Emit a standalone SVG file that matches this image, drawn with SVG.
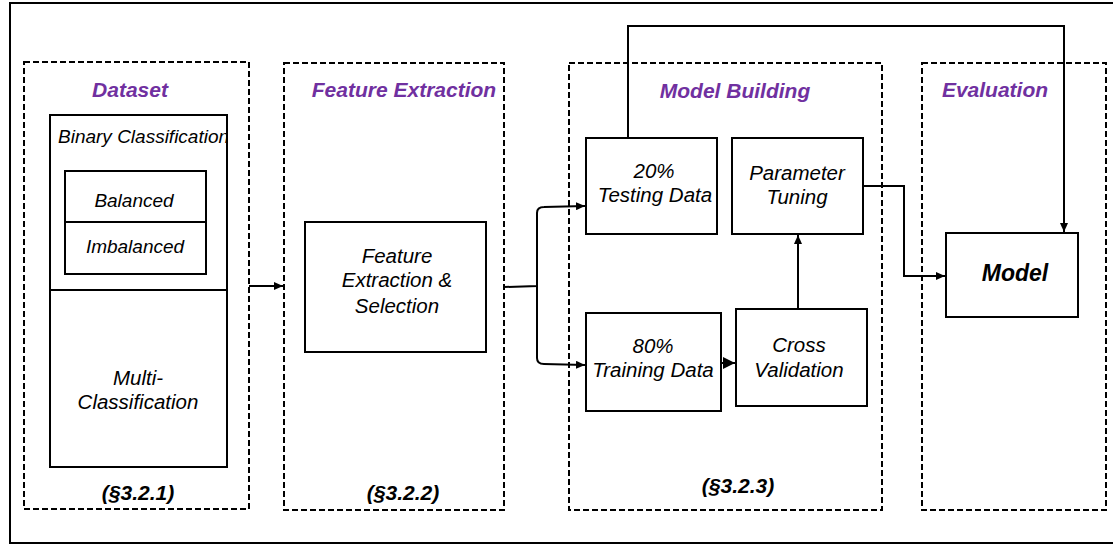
<svg xmlns="http://www.w3.org/2000/svg" width="1113" height="545" viewBox="0 0 1113 545">
  <defs>
    <style>
      .frame { fill: none; stroke: #000; stroke-width: 2; }
      .stage { fill: none; stroke: #000; stroke-width: 2; stroke-dasharray: 6 3; }
      .box { fill: #fff; stroke: #000; stroke-width: 2; }
      .rule { fill: none; stroke: #000; stroke-width: 2; }
      .wire { fill: none; stroke: #000; stroke-width: 2; }
      .title { font-family: "Liberation Sans", Arial, sans-serif; font-size: 21px; font-weight: bold; font-style: italic; fill: #7030A0; text-anchor: middle; }
      .ref { font-family: "Liberation Sans", Arial, sans-serif; font-size: 21px; font-weight: bold; font-style: italic; fill: #000; text-anchor: middle; }
      .lbl { font-family: "Liberation Sans", Arial, sans-serif; font-size: 20.5px; font-style: italic; fill: #000; text-anchor: middle; }
      .lbl-sm { font-family: "Liberation Sans", Arial, sans-serif; font-size: 19px; font-style: italic; fill: #000; text-anchor: middle; }
    </style>
    <marker id="arrow" markerUnits="userSpaceOnUse" markerWidth="9" markerHeight="8" refX="9" refY="4" orient="auto">
      <path d="M0,0 L9,4 L0,8 z" fill="#000"/>
    </marker>
    <marker id="arrow-bold" markerUnits="userSpaceOnUse" markerWidth="12" markerHeight="12" refX="12" refY="6" orient="auto">
      <path d="M0,0 L12,6 L0,12 z" fill="#000"/>
    </marker>
    <clipPath id="binary-clip">
      <rect x="50" y="115" width="177" height="175"/>
    </clipPath>
  </defs>

  <!-- outer frame -->
  <rect class="frame" x="10" y="3" width="1115" height="540"/>

  <!-- stage: dataset -->
  <g id="stage-dataset">
    <rect class="stage" x="24" y="62" width="225" height="447"/>
    <text class="title" x="130" y="97">Dataset</text>
    <text class="ref" x="138" y="500">(§3.2.1)</text>
  </g>
  <g id="node-classification">
    <rect class="box" x="50" y="115" width="177" height="352"/>
    <line class="rule" x1="50" y1="290" x2="227" y2="290"/>
    <text class="lbl-sm" x="58" y="143" style="text-anchor:start" clip-path="url(#binary-clip)">Binary Classification</text>
    <text class="lbl" x="138" y="385">Multi-</text>
    <text class="lbl" x="138" y="409">Classification</text>
  </g>
  <g id="node-balance">
    <rect class="box" x="65" y="171" width="141" height="103"/>
    <line class="rule" x1="65" y1="222" x2="206" y2="222"/>
    <text class="lbl-sm" x="134" y="207">Balanced</text>
    <text class="lbl-sm" x="135" y="253">Imbalanced</text>
  </g>

  <!-- stage: feature extraction -->
  <g id="stage-features">
    <rect class="stage" x="284" y="63" width="220" height="447"/>
    <text class="title" x="404" y="97">Feature Extraction</text>
    <text class="ref" x="403" y="500">(§3.2.2)</text>
  </g>
  <g id="node-feature-selection">
    <rect class="box" x="305" y="222" width="181" height="130"/>
    <text class="lbl" x="397" y="263">Feature</text>
    <text class="lbl" x="397" y="287">Extraction &amp;</text>
    <text class="lbl" x="397" y="313">Selection</text>
  </g>

  <!-- stage: model building -->
  <g id="stage-model-building">
    <rect class="stage" x="569" y="63" width="313" height="447"/>
    <text class="title" x="735" y="98">Model Building</text>
    <text class="ref" x="738" y="493">(§3.2.3)</text>
  </g>
  <g id="node-testing">
    <rect class="box" x="586" y="138" width="131" height="96"/>
    <text class="lbl" x="654" y="178">20%</text>
    <text class="lbl" x="655" y="202">Testing Data</text>
  </g>
  <g id="node-tuning">
    <rect class="box" x="732" y="138" width="131" height="96"/>
    <text class="lbl" x="797" y="180">Parameter</text>
    <text class="lbl" x="797" y="204">Tuning</text>
  </g>
  <g id="node-training">
    <rect class="box" x="586" y="313" width="135" height="98"/>
    <text class="lbl" x="653" y="353">80%</text>
    <text class="lbl" x="653" y="377">Training Data</text>
  </g>
  <g id="node-cross-validation">
    <rect class="box" x="736" y="309" width="131" height="97"/>
    <text class="lbl" x="799" y="352">Cross</text>
    <text class="lbl" x="799" y="377">Validation</text>
  </g>

  <!-- stage: evaluation -->
  <g id="stage-evaluation">
    <rect class="stage" x="922" y="63" width="184" height="447"/>
    <text class="title" x="995" y="97">Evaluation</text>
  </g>
  <g id="node-model">
    <rect class="box" x="946" y="233" width="132" height="84"/>
    <text class="ref" x="1015" y="281" style="font-size:23px">Model</text>
  </g>

  <!-- connectors -->
  <g id="connectors">
    <path class="wire" d="M249,286 L283,286" marker-end="url(#arrow)"/>
    <path class="wire" d="M504,287 L537,286 L537,213 Q537,207 544,207 L585,206" marker-end="url(#arrow)"/>
    <path class="wire" d="M537,286 L537,358 Q537,364 544,364 L585,365" marker-end="url(#arrow)"/>
    <path class="wire" d="M721,363 L735,363" marker-end="url(#arrow-bold)"/>
    <path class="wire" d="M798,309 L798,235" marker-end="url(#arrow)"/>
    <path class="wire" d="M628,138 L628,26 L1064,26 L1064,232" marker-end="url(#arrow)"/>
    <path class="wire" d="M863,186 L904,186 L904,276 L945,276" marker-end="url(#arrow)"/>
  </g>
</svg>
